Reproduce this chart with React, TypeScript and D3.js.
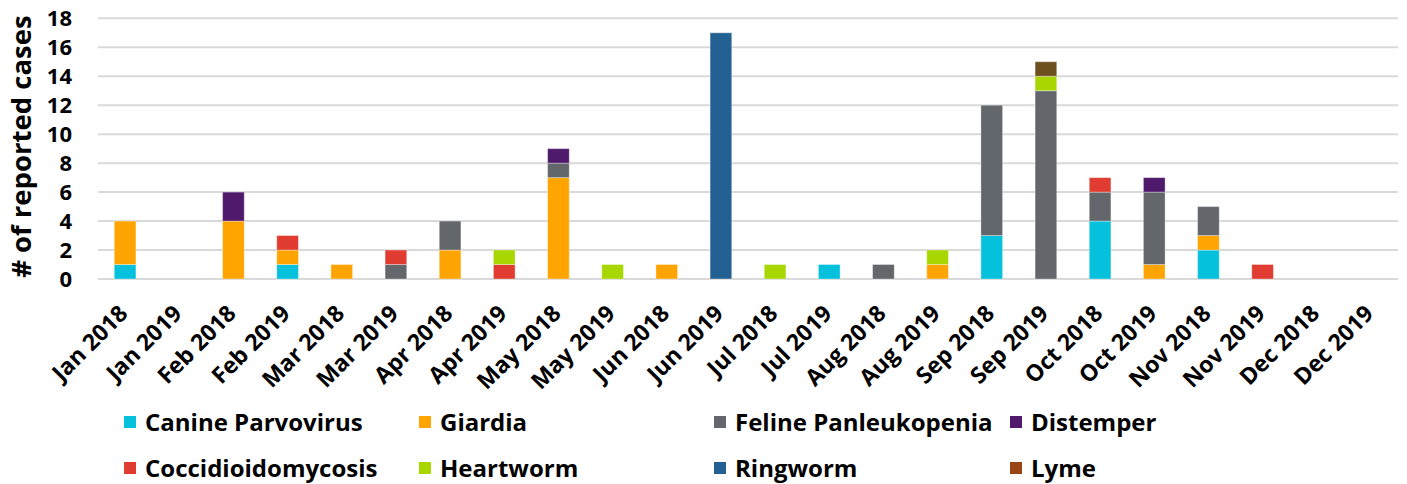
import React from "react";
import * as d3 from "d3";

const months: string[] = [
  "Jan 2018", "Jan 2019", "Feb 2018", "Feb 2019", "Mar 2018", "Mar 2019",
  "Apr 2018", "Apr 2019", "May 2018", "May 2019", "Jun 2018", "Jun 2019",
  "Jul 2018", "Jul 2019", "Aug 2018", "Aug 2019", "Sep 2018", "Sep 2019",
  "Oct 2018", "Oct 2019", "Nov 2018", "Nov 2019", "Dec 2018", "Dec 2019",
];

const seriesNames: string[] = [
  "Canine Parvovirus", "Giardia", "Feline Panleukopenia", "Distemper",
  "Coccidioidomycosis", "Heartworm", "Ringworm", "Lyme",
];

const canineParvovirus = [1, 0, 0, 1, 0, 0, 0, 0, 0, 0, 0, 0, 0, 1, 0, 0, 3, 0, 4, 0, 2, 0, 0, 0];
const giardia = [3, 0, 4, 1, 1, 0, 2, 0, 7, 0, 1, 0, 0, 0, 0, 1, 0, 0, 0, 1, 1, 0, 0, 0];
const felinePanleukopenia = [0, 0, 0, 0, 0, 1, 2, 0, 1, 0, 0, 0, 0, 0, 1, 0, 9, 13, 2, 5, 2, 0, 0, 0];
const distemper = [0, 0, 2, 0, 0, 0, 0, 0, 1, 0, 0, 0, 0, 0, 0, 0, 0, 0, 0, 1, 0, 0, 0, 0];
const coccidioidomycosis = [0, 0, 0, 1, 0, 1, 0, 1, 0, 0, 0, 0, 0, 0, 0, 0, 0, 0, 1, 0, 0, 1, 0, 0];
const heartworm = [0, 0, 0, 0, 0, 0, 0, 1, 0, 1, 0, 0, 1, 0, 0, 1, 0, 1, 0, 0, 0, 0, 0, 0];
const ringworm = [0, 0, 0, 0, 0, 0, 0, 0, 0, 0, 0, 17, 0, 0, 0, 0, 0, 0, 0, 0, 0, 0, 0, 0];
const lyme = [0, 0, 0, 0, 0, 0, 0, 0, 0, 0, 0, 0, 0, 0, 0, 0, 0, 1, 0, 0, 0, 0, 0, 0];

const seriesValues = [
  canineParvovirus, giardia, felinePanleukopenia, distemper,
  coccidioidomycosis, heartworm, ringworm, lyme,
];

const barColors = ["#06C1DC", "#FFA400", "#63666A", "#4F1A6B", "#E03C31", "#A8D600", "#236192", "#6E4F1E"];
const legendColors = ["#06C1DC", "#FFA400", "#63666A", "#4F1A6B", "#E03C31", "#A8D600", "#236192", "#9A4614"];

const yTicks = [0, 2, 4, 6, 8, 10, 12, 14, 16, 18];
const yTitle = "# of reported cases";

const W = 1407;
const H = 484;
const FONT = "'Open Sans', 'Noto Sans', sans-serif";

export default function App() {
  const left = 98, right = 1398, top = 18.3, bottom = 279;

  const x = d3.scaleBand<string>().domain(months).range([left, right]).paddingInner(0.6).paddingOuter(0.3);
  const y = d3.scaleLinear().domain([0, 18]).range([bottom, top]);

  const rows = months.map((m, i) => {
    const r: Record<string, number | string> = { month: m };
    seriesNames.forEach((s, k) => (r[s] = seriesValues[k][i]));
    return r;
  });
  const stacked = d3.stack<Record<string, number | string>>().keys(seriesNames)(rows as any);

  const legendCols = [124, 419, 714, 1010];
  const legendRows = [422, 468];

  return (
    <svg width={W} height={H} style={{ position: "absolute", left: 0, top: 0, background: "#fff" }} fontFamily={FONT}>
      {yTicks.map((t) => (
        <g key={t}>
          <line x1={left} x2={right} y1={y(t)} y2={y(t)} stroke="#D9D9D9" strokeWidth={2} />
          <text x={72} y={y(t)} dy="0.36em" textAnchor="end" fontSize={22} fontWeight={700} fill="#000">
            {t}
          </text>
        </g>
      ))}
      <text
        transform={`translate(${31},${(top + bottom) / 2 - 2}) rotate(-90)`}
        textAnchor="middle"
        fontSize={27.5}
        fontWeight={700}
        fill="#000"
      >
        {yTitle}
      </text>
      {stacked.map((layer, k) => (
        <g key={seriesNames[k]} fill={barColors[k]}>
          {layer.map((d, i) =>
            d[1] - d[0] > 0 ? (
              <rect
                key={i}
                x={x(months[i])}
                width={x.bandwidth()}
                y={y(d[1])}
                height={y(d[0]) - y(d[1])}
                stroke="rgba(255,255,255,0.35)"
                strokeWidth={1}
              />
            ) : null
          )}
        </g>
      ))}
      {months.map((m) => {
        const cx = (x(m) as number) + x.bandwidth() / 2;
        return (
          <text
            key={m}
            transform={`translate(${cx + 4},${315}) rotate(-45)`}
            textAnchor="end"
            fontSize={23}
            fontWeight={700}
            fill="#000"
          >
            {m}
          </text>
        );
      })}
      {seriesNames.map((s, k) => {
        const lx = legendCols[k % 4];
        const ly = legendRows[Math.floor(k / 4)];
        return (
          <g key={s}>
            <rect x={lx} y={ly - 6} width={12} height={12} fill={legendColors[k]} />
            <text x={lx + 21} y={ly} dy="0.36em" fontSize={24} fontWeight={700} fill="#000">
              {s}
            </text>
          </g>
        );
      })}
    </svg>
  );
}
